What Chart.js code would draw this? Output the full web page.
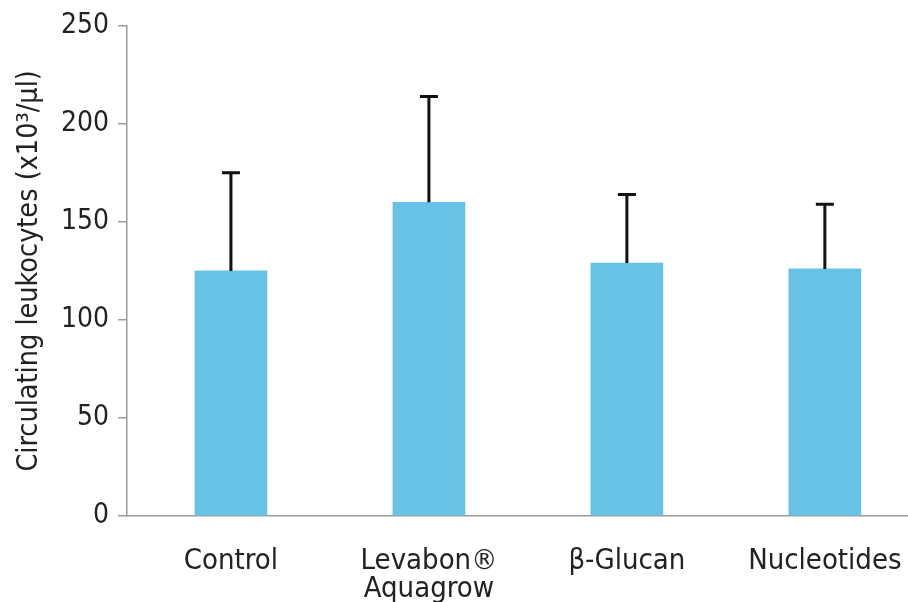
<!DOCTYPE html>
<html>
<head>
<meta charset="utf-8">
<script src="https://cdn.jsdelivr.net/npm/chart.js@4/dist/chart.umd.min.js"></script>
<style>
  html, body { margin: 0; padding: 0; background: #fff; }
  #wrap { width: 908px; height: 602px; }
</style>
</head>
<body>
<div id="wrap"><canvas id="myChart"></canvas></div>
<script>
// values
var groups = ["Control", ["Levabon®", "Aquagrow"], "β-Glucan", "Nucleotides"];
var means = [125, 160, 129, 126];
var sdUp = [50, 54, 35, 33];
var yTicks = [0, 50, 100, 150, 200, 250];

var FONT = "'DejaVu Sans Condensed', 'Liberation Sans Narrow', sans-serif";
var barColor = "#68c2e5";
var axisColor = "#9a9a9a";

// error bars (mean + SD, upward only)
var errorBars = {
  id: "errorBars",
  afterDatasetsDraw: function(chart) {
    var ctx = chart.ctx;
    var xs = chart.scales.x, ys = chart.scales.y;
    ctx.save();
    ctx.strokeStyle = "#111";
    ctx.lineWidth = 3;
    for (var i = 0; i < means.length; i++) {
      var px = xs.getPixelForValue(i);
      var top = ys.getPixelForValue(means[i] + sdUp[i]);
      var base = ys.getPixelForValue(means[i]);
      ctx.beginPath();
      ctx.moveTo(px, base);
      ctx.lineTo(px, top);
      ctx.moveTo(px - 9, top);
      ctx.lineTo(px + 9, top);
      ctx.stroke();
    }
    ctx.restore();
  }
};

new Chart("myChart", {
  type: "bar",
  data: {
    datasets: [{
      data: means.map(function(v, i) { return { x: i, y: v }; }),
      backgroundColor: barColor,
      barThickness: 72
    }]
  },
  options: {
    responsive: true,
    maintainAspectRatio: false,
    animation: false,
    layout: { padding: { top: 25, right: 0, left: 0, bottom: 0 } },
    plugins: { legend: { display: false }, tooltip: { enabled: false } },
    scales: {
      x: {
        type: "linear",
        offset: false,
        min: -0.525,
        max: 3.42,
        afterBuildTicks: function(axis) {
          axis.ticks = groups.map(function(g, i) { return { value: i }; });
        },
        afterFit: function(axis) {
          axis.height = 86;
          axis.paddingLeft = 0;
          axis.paddingRight = 0;
        },
        grid: { display: false },
        border: { color: axisColor, width: 1.5 },
        ticks: {
          color: "#222",
          font: { family: FONT, size: 29, lineHeight: 0.95 },
          padding: 24,
          maxRotation: 0,
          autoSkip: false,
          callback: function(v) { return groups[v]; }
        }
      },
      y: {
        min: 0,
        max: 250,
        afterBuildTicks: function(axis) {
          axis.ticks = yTicks.map(function(v) { return { value: v }; });
        },
        afterFit: function(axis) { axis.width = 127; },
        grid: { drawOnChartArea: false, drawTicks: true, tickLength: 9, color: axisColor, lineWidth: 1.5 },
        border: { color: axisColor, width: 1.5 },
        ticks: {
          color: "#222",
          font: { family: FONT, size: 28 },
          padding: 9
        },
        title: {
          display: true,
          text: "Circulating leukocytes (x10³/µl)",
          color: "#222",
          font: { family: FONT, size: 28.5 },
          padding: { top: 12, bottom: 0 }
        }
      }
    }
  },
  plugins: [errorBars]
});
</script>
</body>
</html>
